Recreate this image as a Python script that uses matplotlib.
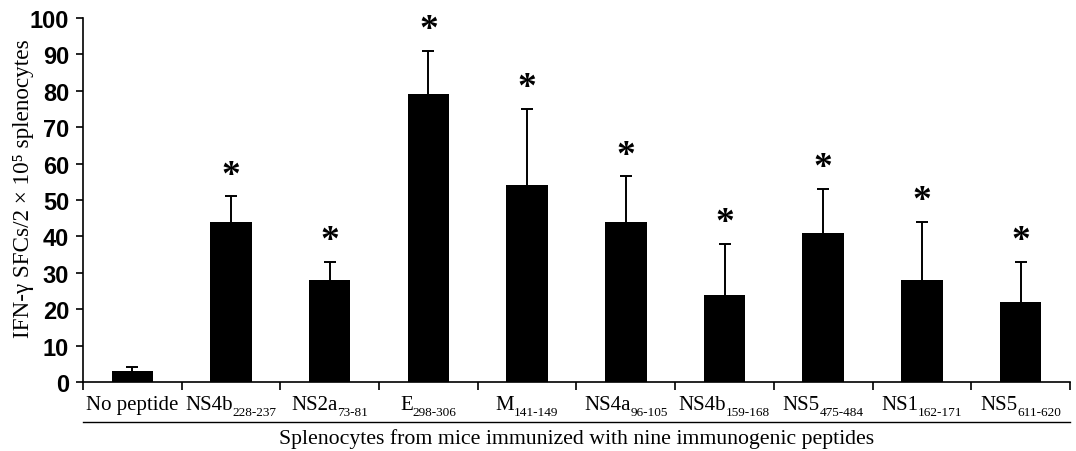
import numpy as np
import matplotlib.pyplot as plt
import matplotlib.transforms as mtransforms

# peptide names (main part + subscript residue range)
names = ['No peptide', 'NS4b', 'NS2a', 'E', 'M', 'NS4a', 'NS4b', 'NS5', 'NS1', 'NS5']
ranges = ['', '228-237', '73-81', '298-306', '141-149', '96-105', '159-168', '475-484', '162-171', '611-620']
means = [3, 44, 28, 79, 54, 44, 24, 41, 28, 22]
errors = [1, 7, 5, 12, 21, 12.5, 14, 12, 16, 11]
significant = [False, True, True, True, True, True, True, True, True, True]

fig = plt.figure(figsize=(10.76, 4.52), dpi=100)
ax = fig.add_axes([0.0771, 0.1527, 0.9173, 0.8053])

x = np.arange(len(means))
tops = np.array(means) + np.array(errors)
ax.bar(x, means, width=0.42, color='black', zorder=3)
# upper error bars only
ax.vlines(x, means, tops, color='black', lw=1.4, zorder=2)
ax.plot(x, tops, ls='none', marker='_', markersize=9, markeredgewidth=1.4,
        color='black', zorder=2)

for xi, t, s in zip(x, tops, significant):
    if s:
        ax.text(xi, t + 5.8, '*', ha='center', va='center',
                fontsize=27, fontweight='bold', family='Liberation Serif')

ax.set_xlim(-0.5, len(means) - 0.5)
ax.set_ylim(0, 100)
ax.set_yticks(np.arange(0, 101, 10))
ax.set_yticklabels([str(v) for v in range(0, 101, 10)], family='Liberation Sans',
                   fontsize=17, fontweight='bold')
ax.tick_params(axis='y', direction='out', length=5, width=1.2, pad=5)

# ticks sit between the bars
ax.set_xticks(np.arange(-0.5, len(means), 1.0))
ax.set_xticklabels([])
ax.tick_params(axis='x', which='major', direction='out', length=6, width=1.2)

for side in ['top', 'right']:
    ax.spines[side].set_visible(False)
ax.spines['left'].set_linewidth(1.2)
ax.spines['bottom'].set_linewidth(1.2)

# category labels: main text + smaller, lowered subscript, centred under each bar
trans = mtransforms.blended_transform_factory(ax.transData, ax.transAxes)
base_y = -(410 - 383) / 364.0
pairs = []
for xi, n, r in zip(x, names, ranges):
    tm = ax.text(xi, base_y, n, transform=trans, ha='left', va='baseline',
                 family='Liberation Serif', fontsize=15)
    ts = None
    if r:
        ts = ax.text(xi, base_y, r, transform=trans, ha='left', va='baseline',
                     family='Liberation Serif', fontsize=9.5)
    pairs.append((tm, ts))

fig.canvas.draw()
renderer = fig.canvas.get_renderer()
for tm, ts in pairs:
    w1 = tm.get_window_extent(renderer).width
    w2 = ts.get_window_extent(renderer).width if ts is not None else 0
    total = w1 + w2
    tm.set_transform(trans + mtransforms.Affine2D().translate(-total / 2, 0))
    if ts is not None:
        ts.set_transform(trans + mtransforms.Affine2D().translate(-total / 2 + w1, -6.5))

ax.plot([0, 1], [-0.110, -0.110], transform=ax.transAxes, color='black',
        lw=1.0, clip_on=False)
fig.text(0.536, 0.029, 'Splenocytes from mice immunized with nine immunogenic peptides',
         ha='center', va='center', family='Liberation Serif', fontsize=15.7)

fig.text(0.022, 0.582, 'IFN-γ SFCs/2 × 10⁵ splenocytes', rotation=90,
         ha='center', va='center', family=['Liberation Serif', 'DejaVu Serif'],
         fontsize=16.7)

fig.savefig('out.png', dpi=100)
